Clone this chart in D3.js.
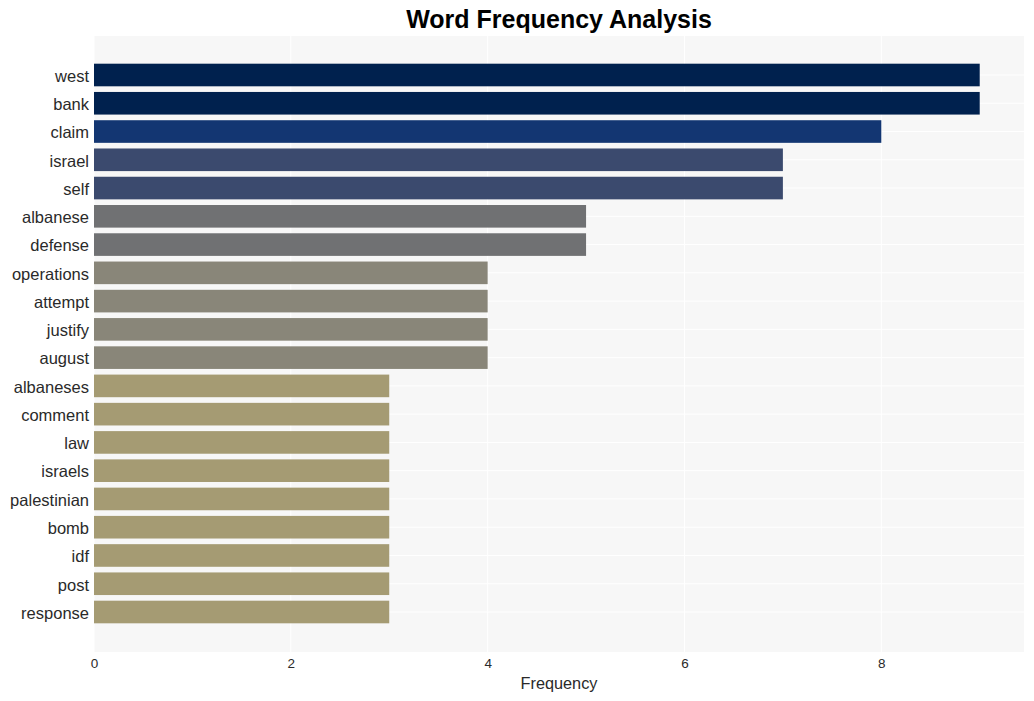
<!DOCTYPE html>
<html><head><meta charset="utf-8">
<script src="https://cdn.jsdelivr.net/npm/d3@7"></script>
<style>body{margin:0;background:#fff;} svg{display:block;font-family:"Liberation Sans",Arial,sans-serif;}</style>
</head><body>
<svg id="chart" width="1034" height="701"></svg>
<script>
const words = ["west","bank","claim","israel","self","albanese","defense","operations","attempt","justify","august","albaneses","comment","law","israels","palestinian","bomb","idf","post","response"];
const counts = [9,9,8,7,7,5,5,4,4,4,4,3,3,3,3,3,3,3,3,3];
const xTicks = [0,2,4,6,8];
const colorValues = [9,8,7,5,4,3];
const colorList = ["#00214e","#133672","#3b4a6e","#707173","#898679","#a59b73"];

const svg = d3.select("#chart");
const plot = {left:94, right:1024, top:36, bottom:652};
const x = d3.scaleLinear().domain([0, d3.max(counts)*1.05]).range([plot.left, plot.right]);
const step = (612-75)/(words.length-1);
const y = d3.scaleBand().domain(words).range([75-step/2, 612+step/2]).paddingInner(0.2).paddingOuter(0.1);
const color = d3.scaleOrdinal().domain(colorValues).range(colorList);

svg.append("rect").attr("x",plot.left).attr("y",plot.top).attr("width",plot.right-plot.left).attr("height",plot.bottom-plot.top).attr("fill","#f7f7f7");

// gridlines
svg.append("g").selectAll("line").data(xTicks).join("line")
  .attr("x1",d=>x(d)).attr("x2",d=>x(d)).attr("y1",plot.top).attr("y2",plot.bottom)
  .attr("stroke","#fff").attr("stroke-width",1);
svg.append("g").selectAll("line").data(words).join("line")
  .attr("x1",plot.left).attr("x2",plot.right)
  .attr("y1",d=>y(d)+y.bandwidth()/2).attr("y2",d=>y(d)+y.bandwidth()/2)
  .attr("stroke","#fff").attr("stroke-width",1);

// bars
svg.append("g").selectAll("rect").data(words).join("rect")
  .attr("x",x(0)).attr("y",d=>y(d))
  .attr("width",(d,i)=>x(counts[i])-x(0)).attr("height",y.bandwidth())
  .attr("fill",(d,i)=>color(counts[i]));

// y axis labels
const yAxis = d3.axisLeft(y).tickSize(0).tickPadding(5);
const gy = svg.append("g").attr("transform",`translate(${plot.left},1.5)`).call(yAxis);
gy.select(".domain").remove();
gy.selectAll("text").attr("font-size",16.5).attr("fill","#2a2a2a").attr("font-family","'Liberation Sans',Arial,sans-serif");

// x axis
const xAxis = d3.axisBottom(x).tickValues(xTicks).tickSize(0).tickPadding(5);
const gx = svg.append("g").attr("transform",`translate(0,${plot.bottom+1})`).call(xAxis);
gx.select(".domain").remove();
gx.selectAll("text").attr("font-size",13.5).attr("fill","#2a2a2a").attr("font-family","'Liberation Sans',Arial,sans-serif");

svg.append("text").attr("x",(plot.left+plot.right)/2).attr("y",689).attr("text-anchor","middle")
  .attr("font-size",16.3).attr("fill","#2a2a2a").text("Frequency");

svg.append("text").attr("x",(plot.left+plot.right)/2).attr("y",28).attr("text-anchor","middle")
  .attr("font-size",25).attr("font-weight","bold").attr("fill","#000").text("Word Frequency Analysis");
</script>
</body></html>
